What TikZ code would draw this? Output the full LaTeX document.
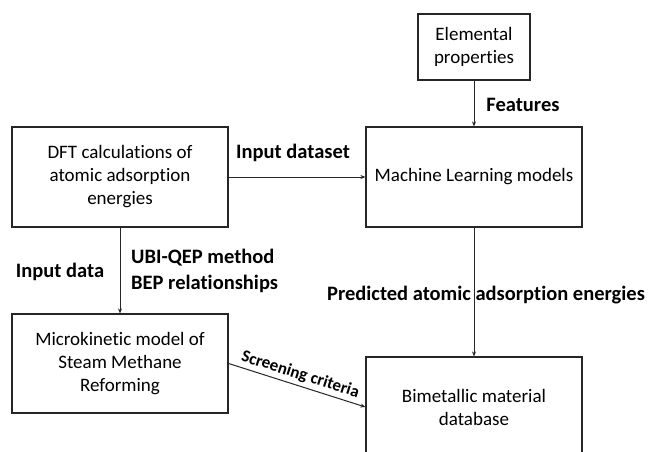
\documentclass[tikz,border=0pt]{standalone}
\usepackage{fontspec}
\setmainfont{Carlito}[Ligatures=CommonOff]
\usetikzlibrary{arrows.meta}
\begin{document}
\begin{tikzpicture}[x=1pt,y=-1pt,
  box/.style={draw=black!85,line width=1.2pt,align=center,font=\fontsize{19}{23}\selectfont,inner sep=0pt},
  conn/.style={draw=black!85,line width=1pt,-{Stealth[length=5pt,width=4pt]}},
  lbl/.style={font=\bfseries\fontsize{20.5}{26}\selectfont,inner sep=0pt}]
\useasboundingbox (0,0) rectangle (656,452);
\fill[white] (0,0) rectangle (656,452);
\node[box,minimum width=112pt,minimum height=66pt] (elem) at (474,47) {Elemental\\properties};
\node[box,minimum width=216pt,minimum height=100pt] (ml) at (474,177) {Machine Learning models};
\node[box,minimum width=216pt,minimum height=100pt] (dft) at (120,177) {DFT calculations of\\atomic adsorption\\energies};
\node[box,minimum width=216pt,minimum height=99pt] (mk) at (120,363.5) {Microkinetic model of\\Steam Methane\\Reforming};
\node[box,minimum width=216pt,minimum height=100pt] (bim) at (474,407) {Bimetallic material\\database};
\draw[conn] (elem) -- (ml);
\draw[conn] (dft) -- (ml);
\draw[conn] (ml) -- (bim);
\draw[conn] (dft) -- (mk);
\draw[conn] (mk.east) -- (bim.west)
  node[midway,above=3pt,sloped,font=\bfseries\fontsize{17}{20}\selectfont,inner sep=0pt] (scr) {Screening criteria};
\node[lbl] (l1) at (293,153) {Input dataset};
\node[lbl] (l2) at (523,105) {Features};
\node[lbl] (l3) at (60,272) {Input data};
\node[lbl,align=left,anchor=west] (l4) at (131,271) {UBI-QEP method\\BEP relationships};
\node[lbl] (l5) at (486,295) {Predicted atomic adsorption energies};
\end{tikzpicture}
\end{document}
